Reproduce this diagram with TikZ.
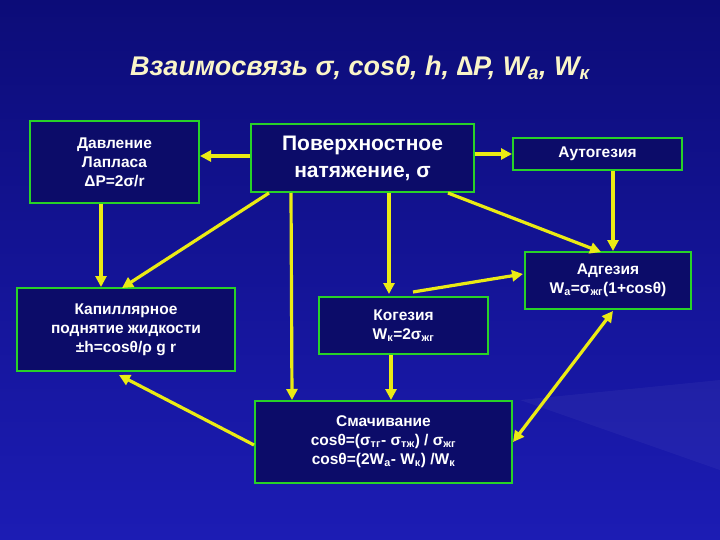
\documentclass[tikz,border=0pt]{standalone}
\usepackage{fontspec}
\setmainfont{Liberation Sans}
\usetikzlibrary{arrows.meta}
\definecolor{bgA}{RGB}{12,12,120}
\definecolor{bgB}{RGB}{28,28,180}
\definecolor{boxfill}{RGB}{12,12,105}
\definecolor{boxline}{RGB}{40,210,40}
\definecolor{arr}{RGB}{235,235,20}
\definecolor{titlec}{RGB}{250,245,200}
\tikzset{
 box/.style={draw=boxline,line width=2pt,fill=boxfill,text=white,font=\bfseries\fontsize{15.5}{19}\selectfont,align=center,inner sep=0pt},
 con/.style={draw=arr,line width=3.2pt,-{Triangle[length=11pt,width=11pt]}},
 con2/.style={draw=arr,line width=3.2pt,{Triangle[length=11pt,width=11pt]}-{Triangle[length=11pt,width=11pt]}}
}
\newcommand{\lo}[1]{\textsubscript{#1}}
\begin{document}
\begin{tikzpicture}[x=1pt,y=-1pt]
\shade[top color=bgA,bottom color=bgB] (0,0) rectangle (720,540);
\useasboundingbox (0,0) rectangle (720,540);
\fill[white,opacity=0.04] (520,400) -- (720,380) -- (720,470) -- cycle;
\node[text=titlec,font=\bfseries\itshape\fontsize{27}{32}\selectfont] (title) at (360,68) {Взаимосвязь σ, cosθ, h, ∆P, W\lo{a}, W\lo{к}};
\node[box,minimum width=169pt,minimum height=82pt] (dav) at (114.5,162) {Давление\\Лапласа\\ΔP=2σ/r};
\node[box,minimum width=223pt,minimum height=68pt,font=\bfseries\fontsize{21}{27}\selectfont] (pov) at (362.5,158) {Поверхностное\\натяжение, σ};
\node[box,minimum width=169pt,minimum height=32pt] (aut) at (597.5,154) {Аутогезия};
\node[box,minimum width=166pt,minimum height=57pt] (adg) at (608,280.5) {Адгезия\\W\lo{a}=σ\lo{жг}(1+cosθ)};
\node[box,minimum width=218pt,minimum height=83pt] (kap) at (126,329.5) {Капиллярное\\поднятие жидкости\\±h=cosθ/ρ g r};
\node[box,minimum width=169pt,minimum height=57pt] (kog) at (403.5,325.5) {Когезия\\W\lo{к}=2σ\lo{жг}};
\node[box,minimum width=257pt,minimum height=82pt] (sma) at (383.5,442) {Смачивание\\cosθ=(σ\lo{тг}- σ\lo{тж}) / σ\lo{жг}\\cosθ=(2W\lo{a}- W\lo{к}) /W\lo{к}};
\draw[con] (pov.west |- 0,156) -- (dav.east |- 0,156);
\draw[con] (pov.east |- 0,154) -- (aut.west |- 0,154);
\draw[con] (dav.south -| 101,0) -- (kap.north -| 101,0);
\draw[con] (269,193) -- (122,288);
\draw[con] (pov.south -| 291,0) -- (sma.north -| 292,0);
\draw[con] (pov.south -| 389,0) -- (389,294);
\draw[con] (448,193) -- (601,252);
\draw[con] (aut.south -| 613,0) -- (adg.north -| 613,0);
\draw[con] (413,292) -- (523,274);
\draw[con] (kog.south -| 391,0) -- (sma.north -| 391,0);
\draw[con] (sma.west |- 0,445) -- (119,375);
\draw[con2] (513,442) -- (613,311);
\end{tikzpicture}
\end{document}
